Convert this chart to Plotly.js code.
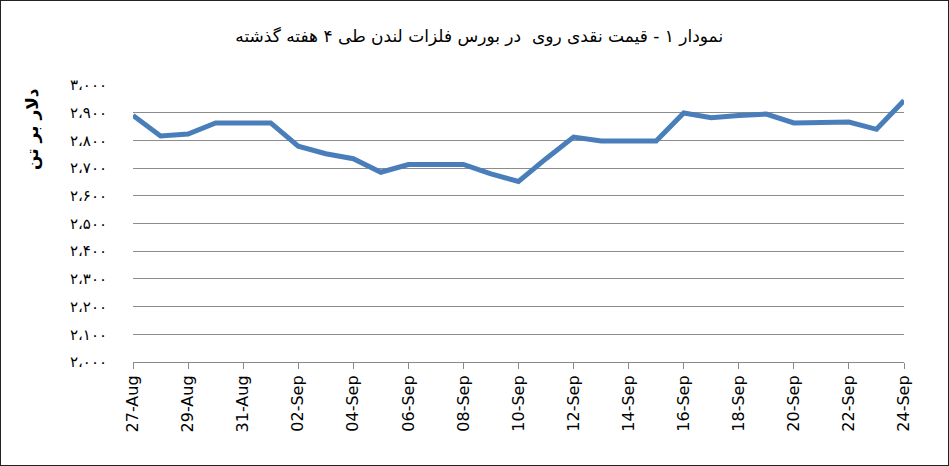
<!DOCTYPE html>
<html>
<head>
<meta charset="utf-8">
<script src="https://cdn.plot.ly/plotly-3.0.1.min.js"></script>
<style>
html,body{margin:0;padding:0;background:#fff;}
#chart{width:949px;height:466px;box-sizing:border-box;border:1px solid #222;}
</style>
</head>
<body>
<div id="chart"></div>
<script>
const dates = ['2018-08-27','2018-08-28','2018-08-29','2018-08-30','2018-08-31','2018-09-01','2018-09-02','2018-09-03','2018-09-04','2018-09-05','2018-09-06','2018-09-07','2018-09-08','2018-09-09','2018-09-10','2018-09-11','2018-09-12','2018-09-13','2018-09-14','2018-09-15','2018-09-16','2018-09-17','2018-09-18','2018-09-19','2018-09-20','2018-09-21','2018-09-22','2018-09-23','2018-09-24'];
const prices = [2890,2816,2823,2863,2863,2863,2779,2752,2734,2685,2713,2713,2713,2679,2652,2734,2812,2798,2798,2798,2899,2882,2890,2895,2863,2863,2866,2840,2944];
const yTickVals = [2000,2100,2200,2300,2400,2500,2600,2700,2800,2900,3000];
const yTickText = ['۲،۰۰۰','۲،۱۰۰','۲،۲۰۰','۲،۳۰۰','۲،۴۰۰','۲،۵۰۰','۲،۶۰۰','۲،۷۰۰','۲،۸۰۰','۲،۹۰۰','۳،۰۰۰'];
const titleText = 'نمودار ۱ - قیمت نقدی روی  در بورس فلزات لندن طی ۴ هفته گذشته';
const yTitleText = 'دلار بر تن';

const trace = {
  x: dates, y: prices, type: 'scatter', mode: 'lines',
  line: {color: '#4a7ebb', width: 5},
  hoverinfo: 'x+y'
};
const layout = {
  width: 947, height: 464,
  margin: {l: 132, r: 44, t: 84, b: 103},
  paper_bgcolor: '#fff', plot_bgcolor: '#fff',
  showlegend: false,
  title: {text: titleText, x: 0.505, xanchor: 'center', y: 0.925, yanchor: 'middle',
          font: {family: 'DejaVu Sans', size: 17, color: '#000'}},
  xaxis: {
    type: 'date', range: ['2018-08-27', '2018-09-24'],
    tick0: '2018-08-27', dtick: 2*86400000, tickformat: '%d-%b',
    tickangle: -90, ticks: 'outside', ticklen: 6, tickcolor: '#888',
    showline: true, linecolor: '#888', linewidth: 1,
    showgrid: false, zeroline: false,
    tickfont: {family: 'DejaVu Sans', size: 16, color: '#000'}
  },
  yaxis: {
    range: [2000, 3000], tickvals: yTickVals, ticktext: yTickText,
    showgrid: true, gridcolor: '#8c8c8c', gridwidth: 1,
    zeroline: false, showline: false,
    ticks: 'outside', ticklen: 22, tickcolor: 'rgba(0,0,0,0)',
    tickfont: {family: 'DejaVu Sans', size: 15, color: '#000'}
  },
  annotations: [{
    text: '<b>' + yTitleText + '</b>', textangle: -90,
    xref: 'paper', yref: 'paper', x: -0.13, y: 0.84,
    xanchor: 'center', yanchor: 'middle', showarrow: false,
    font: {family: 'DejaVu Sans', size: 17, color: '#000'}
  }]
};
Plotly.newPlot('chart', [trace], layout, {displayModeBar: false, staticPlot: true});
</script>
</body>
</html>
